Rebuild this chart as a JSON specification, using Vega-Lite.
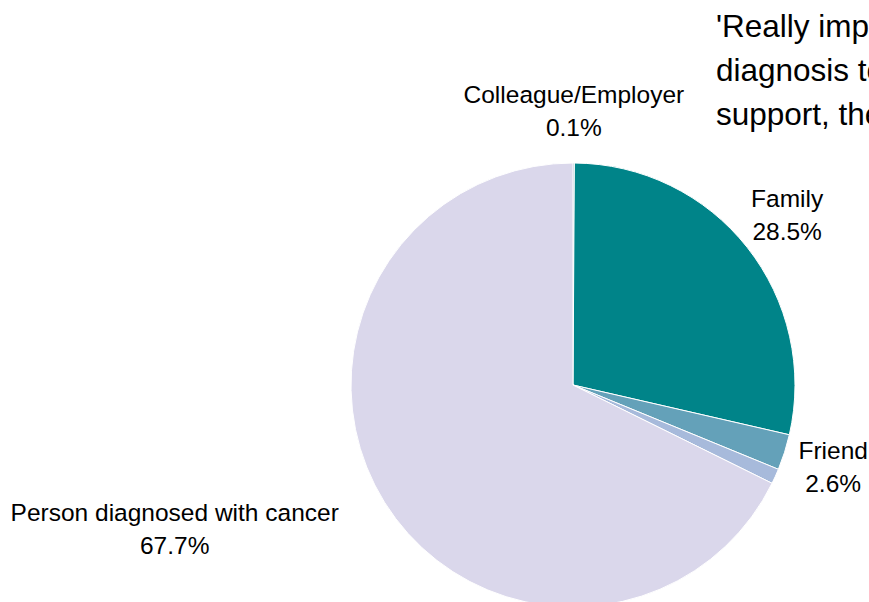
{
  "$schema": "https://vega.github.io/schema/vega-lite/v6.json",
  "width": 444,
  "height": 400,
  "autosize": {"type": "none"},
  "padding": {"left": 351, "top": 185, "right": 74, "bottom": 17},
  "background": "white",
  "config": {"view": {"stroke": null}, "font": "Liberation Sans"},
  "title": {
    "text": ["'Really important to have someone with you at", "diagnosis to take everything in and to give", "support, then and afterwards.'"],
    "anchor": "start",
    "frame": "group",
    "dx": 365,
    "offset": -190,
    "fontSize": 31.5,
    "fontWeight": "normal",
    "lineHeight": 44,
    "color": "#000000",
    "font": "Liberation Sans"
  },
  "data": {
    "values": [
      {"rank": 1, "name": "Colleague/Employer", "share": 0.001},
      {"rank": 2, "name": "Family", "share": 0.285},
      {"rank": 3, "name": "Friend", "share": 0.026},
      {"rank": 4, "name": "Other", "share": 0.011},
      {"rank": 5, "name": "Person diagnosed with cancer", "share": 0.677}
    ]
  },
  "encoding": {
    "theta": {"field": "share", "type": "quantitative", "stack": true},
    "order": {"field": "rank", "type": "ordinal"}
  },
  "layer": [
    {
      "mark": {"type": "arc", "radius": 222, "stroke": "white", "strokeWidth": 1},
      "encoding": {
        "color": {
          "field": "name",
          "type": "nominal",
          "scale": {
            "domain": ["Colleague/Employer", "Family", "Friend", "Other", "Person diagnosed with cancer"],
            "range": ["#2f6f8f", "#008489", "#64a1b9", "#a7badb", "#dad7eb"]
          },
          "legend": null
        }
      }
    },
    {
      "mark": {"type": "text", "radius": 273, "dy": -16, "fontSize": 24.5, "align": "center", "baseline": "middle", "color": "#000000"},
      "encoding": {
        "text": {"field": "name", "type": "nominal"},
        "opacity": {"condition": {"test": "datum.rank >= 4", "value": 0}, "value": 1}
      }
    },
    {
      "mark": {"type": "text", "radius": 273, "dy": 17, "fontSize": 24.5, "align": "center", "baseline": "middle", "color": "#000000"},
      "encoding": {
        "text": {"field": "share", "type": "quantitative", "format": ".1%"},
        "opacity": {"condition": {"test": "datum.rank >= 4", "value": 0}, "value": 1}
      }
    },
    {
      "mark": {"type": "text", "radius": 424, "thetaOffset": 0.206, "dy": -16, "fontSize": 24.5, "align": "center", "baseline": "middle", "color": "#000000"},
      "encoding": {
        "text": {"field": "name", "type": "nominal"},
        "opacity": {"condition": {"test": "datum.rank == 5", "value": 1}, "value": 0}
      }
    },
    {
      "mark": {"type": "text", "radius": 424, "thetaOffset": 0.206, "dy": 17, "fontSize": 24.5, "align": "center", "baseline": "middle", "color": "#000000"},
      "encoding": {
        "text": {"field": "share", "type": "quantitative", "format": ".1%"},
        "opacity": {"condition": {"test": "datum.rank == 5", "value": 1}, "value": 0}
      }
    }
  ]
}
